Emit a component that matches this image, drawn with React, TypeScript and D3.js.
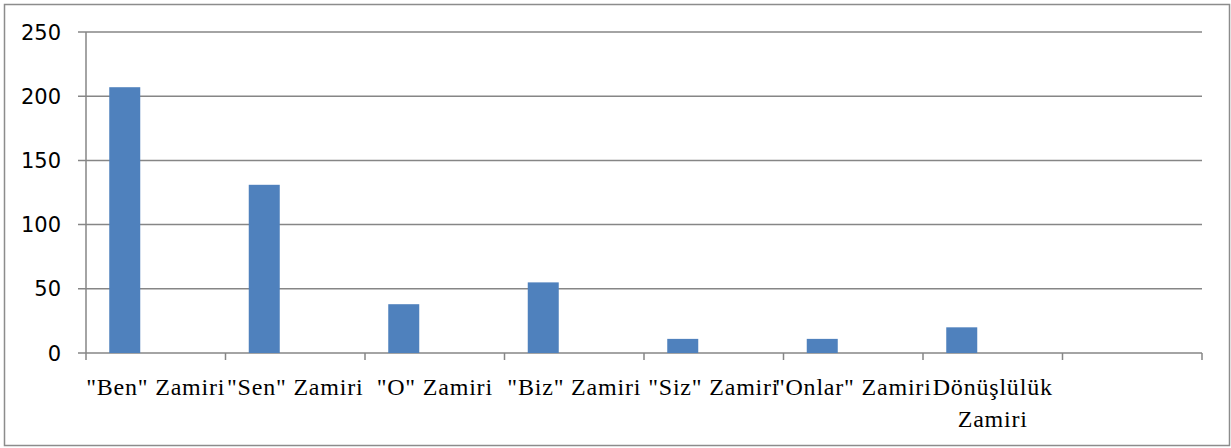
import React from 'react';
import * as d3 from 'd3';

// categories (last slot empty in the original sheet)
const categories = ['"Ben" Zamiri', '"Sen" Zamiri', '"O" Zamiri', '"Biz" Zamiri', '"Siz" Zamiri', '"Onlar" Zamiri', 'Dönüşlülük\nZamiri', ''];
const values = [207, 131, 38, 55, 11, 11, 20, null];
const yTicks = [0, 50, 100, 150, 200, 250];

const W = 1231;
const H = 448;
const margin = { left: 86, right: 29, top: 32, bottom: 95 };

export default function App() {
    const x = d3
        .scaleBand()
        .domain(categories.map((c, i) => String(i)))
        .range([margin.left, W - margin.right])
        .padding(0);
    const y = d3
        .scaleLinear()
        .domain([0, 250])
        .range([H - margin.bottom, margin.top]);

    const bw = x.bandwidth() / 4.5;
    const y0 = y(0);
    const gray = '#868686';

    return (
        <svg width={W} height={H} style={{ position: 'absolute', left: 0, top: 0 }}>
            <rect x={4.5} y={4.5} width={1225} height={441} fill="#fff" stroke="#8c8c8c" strokeWidth={1.5} />
            {yTicks.map((t) => (
                <g key={t}>
                    <line x1={margin.left - 8} x2={W - margin.right} y1={y(t)} y2={y(t)} stroke={gray} strokeWidth={1.5} />
                    <text
                        x={61}
                        y={y(t)}
                        dy="0.36em"
                        textAnchor="end"
                        fontFamily="DejaVu Sans"
                        fontSize={21}
                        fill="#000">{t}</text>
                </g>
            ))}
            <line x1={margin.left} x2={margin.left} y1={margin.top} y2={y0} stroke={gray} strokeWidth={1.5} />
            {categories.map((c, i) => {
                const v = values[i];
                if (v == null) return null;
                return (
                    <rect
                        key={'b' + i}
                        x={x(String(i)) + bw * 0.75}
                        y={y(v)}
                        width={bw}
                        height={y0 - y(v)}
                        fill="#4F81BD" />
                );
            })}
            {d3.range(categories.length + 1).map((i) => {
                const px = margin.left + i * x.bandwidth();
                return <line key={'t' + i} x1={px} x2={px} y1={y0} y2={y0 + 7} stroke={gray} strokeWidth={1.5} />;
            })}
            {categories.map((c, i) => {
                const cx = x(String(i)) + x.bandwidth() / 2;
                return (
                    <text
                        key={'l' + i}
                        textAnchor="middle"
                        fontFamily="Liberation Serif"
                        fontSize={24}
                        letterSpacing={0.8}
                        fill="#000">
                        {c.split('\n').map((line, j) => (
                            <tspan key={j} x={cx} y={395 + j * 32}>{line}</tspan>
                        ))}
                    </text>
                );
            })}
        </svg>
    );
}
